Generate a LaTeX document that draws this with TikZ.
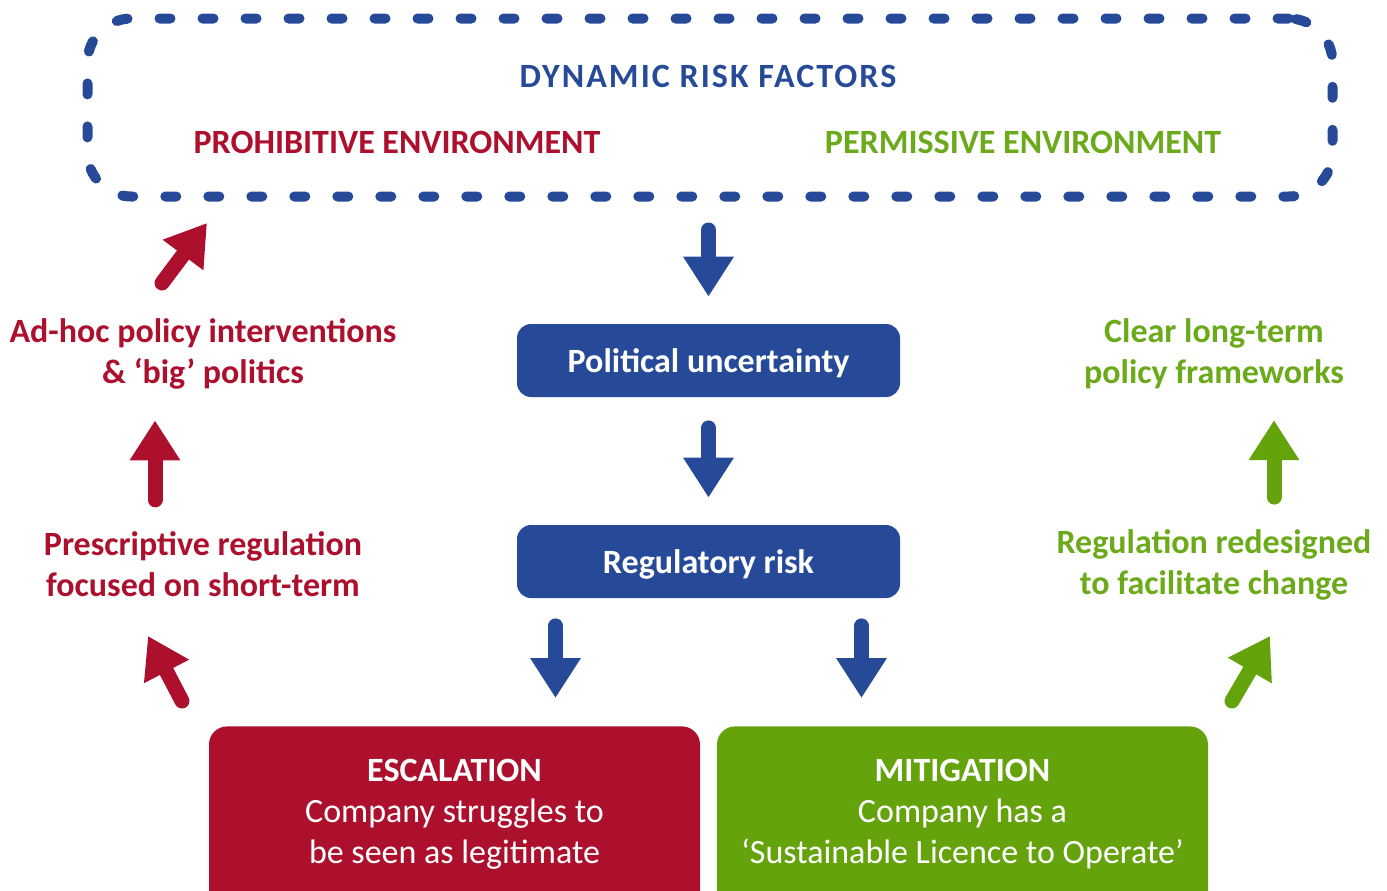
\documentclass[tikz,border=0pt]{standalone}
\usepackage{fontspec}
\setmainfont{Carlito}
\usetikzlibrary{arrows.meta,positioning}

\definecolor{riskblue}{HTML}{274A98}
\definecolor{riskred}{HTML}{AD102D}
\definecolor{riskgreen}{HTML}{65A30D}
\definecolor{textgreen}{HTML}{6BAA1A}

\tikzstyle{frame}=[
    draw=riskblue,
    line width=5pt,
    line cap=round,
    dash pattern=on 5.5pt off 16pt,
    rounded corners=22pt,
    minimum width=622.5pt,
    minimum height=89pt
]
\tikzstyle{stage}=[
    fill=riskblue,
    rounded corners=7pt,
    minimum width=191.5pt,
    minimum height=36.5pt,
    text height=12.5pt,
    text depth=0.5pt,
    text=white,
    font=\fontsize{17}{20.5}\selectfont\bfseries
]
\tikzstyle{outcome}=[
    rounded corners=9pt,
    minimum width=245.5pt,
    minimum height=100pt,
    anchor=north
]
\tikzstyle{outtext}=[
    text=white,
    align=center,
    font=\fontsize{17}{20.5}\selectfont
]
\tikzstyle{factor}=[
    align=center,
    font=\fontsize{17}{20.5}\selectfont\bfseries
]
\tikzstyle{flow}=[
    line width=7.5pt,
    line cap=round,
    -{Triangle[length=20pt,width=24pt]}
]

\begin{document}
\begin{tikzpicture}[x=0.5pt,y=-0.5pt]
	\useasboundingbox (0,0) rectangle (1387,890);

	% dynamic risk factors
	\node (risk) [frame] at (710,107.5) {};
	\node (dyn) [factor,text=riskblue] at (708,76) {\addfontfeature{LetterSpace=6}DYNAMIC RISK FACTORS};
	\node (prohib) [factor,text=riskred] at (397,142) {PROHIBITIVE ENVIRONMENT};
	\node (permis) [factor,text=textgreen] at (1023,142) {PERMISSIVE ENVIRONMENT};

	% central chain
	\node (pol) [stage] at (708.5,360.5) {Political uncertainty};
	\node (reg) [stage] at (708.5,561.5) {Regulatory risk};

	\node (esc) [outcome,fill=riskred] at (454.5,726) {};
	\node (mit) [outcome,fill=riskgreen] at (962.5,726) {};
	\node (esc_txt) [outtext,below=13pt of esc.north] {\textbf{ESCALATION}\\Company struggles to\\be seen as legitimate};
	\node (mit_txt) [outtext,below=13pt of mit.north] {\textbf{MITIGATION}\\Company has a\\‘Sustainable Licence to Operate’};

	% side factors
	\node (adhoc) [factor,text=riskred] at (203,354) {Ad-hoc policy interventions\\\& ‘big’ politics};
	\node (presc) [factor,text=riskred] at (203,564.5) {Prescriptive regulation\\focused on short-term};
	\node (clear) [factor,text=textgreen] at (1214,354) {Clear long-term\\policy frameworks};
	\node (redes) [factor,text=textgreen] at (1214,564.5) {Regulation redesigned\\to facilitate change};

	% arrow ends of the slanted arrows
	\coordinate (esc_out) at (182,701);
	\coordinate (presc_in) at (148,636);
	\coordinate (adhoc_out) at (162,283);
	\coordinate (risk_in) at (207,223);
	\coordinate (mit_out) at (1232,701);
	\coordinate (redes_in) at (1270,636);

	% blue flow down the middle
	\draw[flow,riskblue,shorten <=14.25pt,shorten >=13.5pt] (risk.south -| pol.north) -- (pol.north);
	\draw[flow,riskblue,shorten <=15.25pt,shorten >=13.5pt] (pol) -- (reg);
	\draw[flow,riskblue,shorten <=13.75pt,shorten >=14pt]
		([xshift=-76.5pt]reg.south) -- ([xshift=-76.5pt]reg.south |- esc.north);
	\draw[flow,riskblue,shorten <=13.75pt,shorten >=14pt]
		([xshift=76.5pt]reg.south) -- ([xshift=76.5pt]reg.south |- mit.north);

	% escalation loop
	\draw[flow,riskred] (esc_out) -- (presc_in);
	\draw[flow,riskred,shorten <=12.5pt,shorten >=12pt]
		([xshift=-24pt]presc.north) -- ([xshift=-24pt]adhoc.south);
	\draw[flow,riskred] (adhoc_out) -- (risk_in);

	% mitigation loop
	\draw[flow,riskgreen] (mit_out) -- (redes_in);
	\draw[flow,riskgreen,shorten <=12.5pt,shorten >=12pt]
		([xshift=30pt]redes.north) -- ([xshift=30pt]clear.south);
\end{tikzpicture}
\end{document}
